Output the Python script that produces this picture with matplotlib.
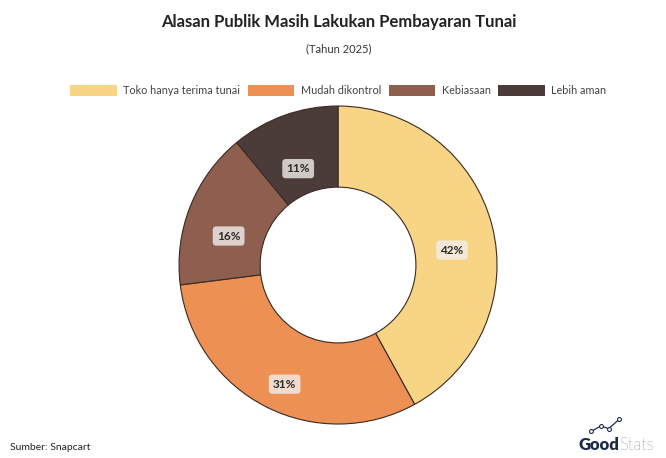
import matplotlib.pyplot as plt
from matplotlib.patches import Patch

categories = ["Toko hanya terima tunai", "Mudah dikontrol", "Kebiasaan", "Lebih aman"]
values = [42, 31, 16, 11]
colors = ["#F8D584", "#EC9053", "#8E5E4F", "#4B3C3A"]

plt.rcParams['font.family'] = ['Lato', 'DejaVu Sans']

fig = plt.figure(figsize=(6.66, 4.58), dpi=100)
fig.patch.set_facecolor("white")

# donut axes placed so the ring centre sits at about (338, 265) px
ax = fig.add_axes((0.2688, 0.0742, 0.4775, 0.6943))
wedges, texts = ax.pie(
    values, colors=colors, startangle=90, counterclock=False,
    labels=[f"{v}%" for v in values], labeldistance=0.74,
    wedgeprops=dict(width=0.51, edgecolor="#3a2a22", linewidth=0.8),
    textprops=dict(fontsize=8.5, fontweight="bold", color="#2b2b2b", ha="center", va="center"),
)
for t in texts:
    # labels in the original sit a little below the ring midline
    x, y = t.get_position()
    t.set_position((x, y - 0.09))
    t.set_bbox(dict(boxstyle="round,pad=0.35,rounding_size=0.3", facecolor="#f2efec", alpha=0.8, edgecolor="none"))
ax.set_xlim(-1.0, 1.0)
ax.set_ylim(-1.0, 1.0)
ax.set_aspect("equal")

fig.text(0.508, 0.952, "Alasan Publik Masih Lakukan Pembayaran Tunai", ha="center", va="center",
         fontsize=12, fontweight="bold", color="#222222")
fig.text(0.508, 0.893, "(Tahun 2025)", ha="center", va="center", fontsize=8, color="#333333")

handles = [Patch(facecolor=c, edgecolor="none") for c in colors]
fig.legend(handles, categories, loc="center", bbox_to_anchor=(0.508, 0.802), ncol=4, frameon=False,
           fontsize=7.8, handlelength=4.3, handleheight=1.1, columnspacing=0.7, handletextpad=0.6,
           labelcolor="#444444")

fig.text(0.015, 0.013, "Sumber: Snapcart", ha="left", va="bottom", fontsize=7.5, color="#222222")

# GoodStats logo as text
good = fig.text(0.868, 0.01, "Good", ha="left", va="bottom", fontsize=12, fontweight="heavy", color="#1d2a4a")
fig.canvas.draw()
bb = good.get_window_extent().transformed(fig.transFigure.inverted())
fig.text(bb.x1, 0.01, "Stats", ha="left", va="bottom", fontsize=12, fontweight="light", color="#1d2a4a")
lx = [0.888, 0.902, 0.914, 0.93]
ly = [0.058, 0.07, 0.064, 0.085]
fig.add_artist(plt.Line2D(lx, ly, color="#1d2a4a", linewidth=0.9, transform=fig.transFigure))
for x, y in zip(lx, ly):
    fig.add_artist(plt.Line2D([x], [y], marker="o", markersize=2.8, markerfacecolor="white",
                              markeredgecolor="#1d2a4a", markeredgewidth=0.8, transform=fig.transFigure))

fig.savefig("out.png", dpi=100, facecolor="white")
